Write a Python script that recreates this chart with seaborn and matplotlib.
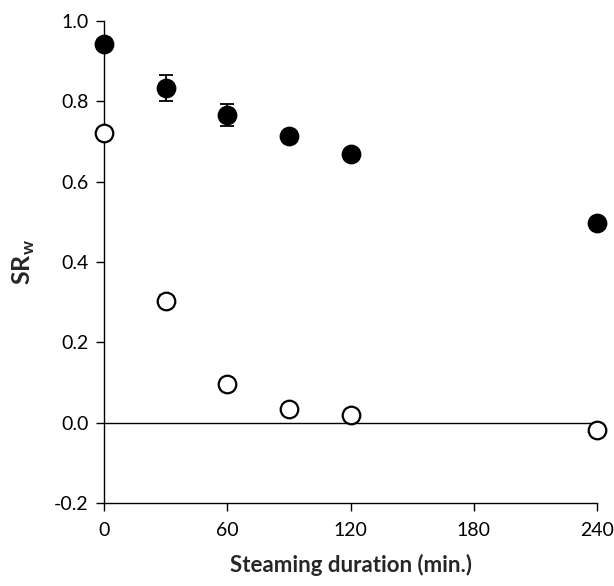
import numpy as np
import pandas as pd
import matplotlib
matplotlib.use("Agg")
import matplotlib.pyplot as plt
import seaborn as sns

# ================================
# DATA
# ================================
minutes = [0, 30, 60, 90, 120, 240]
srw_filled = [0.942, 0.833, 0.766, 0.713, 0.668, 0.497]
err_filled = [0.01, 0.033, 0.028, 0.01, 0.01, 0.01]
srw_open = [0.722, 0.302, 0.097, 0.033, 0.018, -0.018]
err_open = [0.01, 0.015, 0.01, 0.01, 0.01, 0.01]

x_ticks = [0, 60, 120, 180, 240]
y_ticks = [-0.2, 0.0, 0.2, 0.4, 0.6, 0.8, 1.0]

df = pd.DataFrame({
    "minutes": minutes * 2,
    "srw": srw_filled + srw_open,
    "err": err_filled + err_open,
    "group": ["filled"] * len(minutes) + ["open"] * len(minutes),
})

# ================================
# PLOT
# ================================
sns.set_style("ticks")
plt.rcParams["font.family"] = ["Lato", "DejaVu Sans"]

fig = plt.figure(figsize=(6.14, 5.86), dpi=100)
ax = fig.add_axes([0.170, 0.142, 0.802, 0.822])

ax.axhline(0, color="black", lw=1.0, zorder=1)

for grp, face in [("filled", "black"), ("open", "white")]:
    d = df[df["group"] == grp]
    ax.errorbar(d["minutes"], d["srw"], yerr=d["err"], fmt="none",
                ecolor="black", elinewidth=1.3, capsize=5, capthick=1.3,
                zorder=2, clip_on=False)
    sns.scatterplot(data=d, x="minutes", y="srw", ax=ax, color=face,
                    edgecolor="black", linewidth=1.6, s=160, zorder=3,
                    clip_on=False, legend=False)

ax.set_xlim(0, 240)
ax.set_ylim(-0.2, 1.0)
ax.set_xticks(x_ticks)
ax.set_yticks(y_ticks)
ax.set_yticklabels([f"{v:.1f}" for v in y_ticks])
ax.tick_params(axis="both", direction="out", length=5.5, width=1,
               labelsize=14, color="black", labelcolor="black")
ax.tick_params(axis="x", pad=8)
ax.tick_params(axis="y", pad=6)
for side in ["top", "right"]:
    ax.spines[side].set_visible(False)
for side in ["left", "bottom"]:
    ax.spines[side].set_linewidth(1)
    ax.spines[side].set_color("black")

ax.set_xlabel("Steaming duration (min.)", fontsize=16, fontweight="bold", labelpad=11)
ax.set_ylabel(r"SR$_\mathregular{w}$", fontsize=18, fontweight="bold", labelpad=12)

plt.savefig("out.png", dpi=100)
